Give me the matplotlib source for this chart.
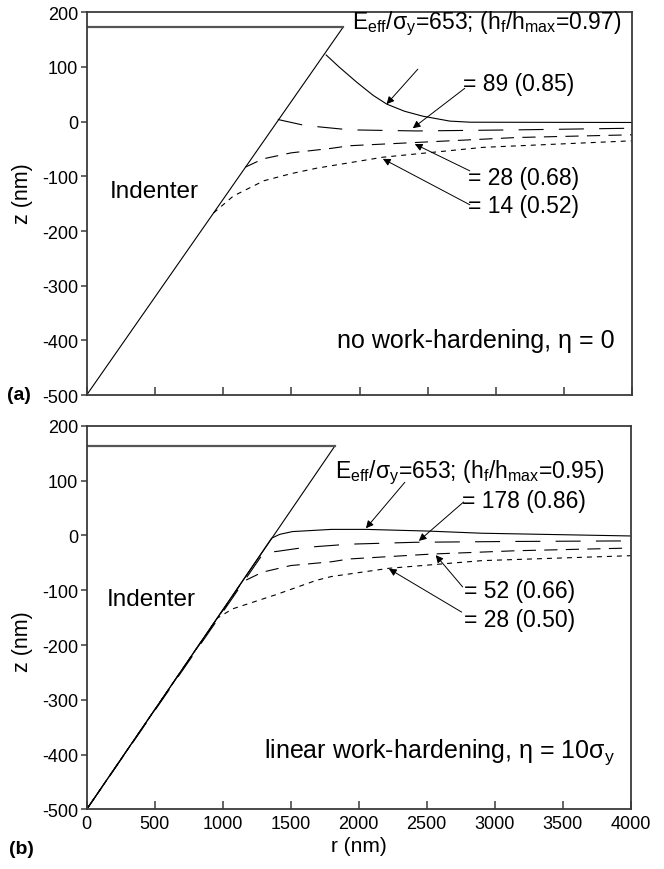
import numpy as np
import matplotlib
matplotlib.use("Agg")
import matplotlib.pyplot as plt

plt.rcParams["font.family"] = ["Liberation Sans", "DejaVu Sans"]
plt.rcParams["mathtext.fontset"] = "custom"
plt.rcParams["mathtext.rm"] = "Liberation Sans"
plt.rcParams["mathtext.it"] = "Liberation Sans"
plt.rcParams["lines.scale_dashes"] = False
plt.rcParams["axes.unicode_minus"] = False

# ─── Data ────────────────────────────────────────────────────────────────────

# indenter outline: tip at (0, -500), flat top
TIP_Z = -500
TOP_Z_A, EDGE_R_A = 173, 1880
TOP_Z_B, EDGE_R_B = 163, 1824

# (a) no work-hardening
a_653_r = [1755, 1850, 1980, 2100, 2200, 2330, 2464, 2662, 2810, 4000]
a_653_z = [122, 100, 72, 48, 32, 19, 10, 1, -1, -1.5]
a_89_r = [1401, 1600, 1929, 2420, 3152, 4000]
a_89_z = [4, -7, -15, -17, -15, -12]
a_28_r = [1165, 1293, 1500, 1787, 1929, 2420, 3152, 4000]
a_28_z = [-83, -68, -57, -49, -44, -38, -29, -24]
a_14_r = [930, 1075, 1300, 1500, 1688, 2172, 2906, 4000]
a_14_z = [-167, -136, -108, -95, -85, -65, -47, -35]

# (b) linear work-hardening (profiles follow the indenter down to the tip)
b_653_r = [0, 1360, 1420, 1513, 1800, 2054, 2500, 2903, 4000]
b_653_z = [-500, -5, 2, 7, 11, 11, 8, 4, -1]
b_178_r = [0, 1300, 1403, 1600, 1929, 2420, 3152, 4000]
b_178_z = [-500, -32, -29, -22, -16, -12.5, -11, -10]
b_52_r = [0, 1143, 1293, 1500, 1802, 1929, 2537, 3152, 4000]
b_52_z = [-500, -85, -67, -55, -48, -43, -34, -28, -23]
b_28_r = [0, 960, 1073, 1393, 1688, 1800, 2222, 2906, 4000]
b_28_z = [-500, -151, -134, -108, -82, -75, -60, -46, -37]

LABELS_A = [r"E$_{\rm eff}$/σ$_{\rm y}$=653; (h$_{\rm f}$/h$_{\rm max}$=0.97)",
            "= 89 (0.85)", "= 28 (0.68)", "= 14 (0.52)"]
LABELS_B = [r"E$_{\rm eff}$/σ$_{\rm y}$=653; (h$_{\rm f}$/h$_{\rm max}$=0.95)",
            "= 178 (0.86)", "= 52 (0.66)", "= 28 (0.50)"]

# label anchor (left, centre) and arrow (start -> tip) in data units
TEXT_A = [(1944, 180), (2757, 69), (2793, -103), (2793, -154)]
ARROW_A = [((2427, 96), (2198, 32)), ((2771, 61), (2390, -12)),
           ((2808, -90), (2405, -41)), ((2808, -152), (2171, -68))]
TEXT_B = [(1826, 117), (2757, 63), (2771, -100), (2771, -153)]
ARROW_B = [((2339, 97), (2053, 13)), ((2771, 61), (2442, -10)),
           ((2764, -94), (2566, -36)), ((2757, -140), (2222, -61))]

STYLES = [dict(ls="-"), dict(ls=(0, (18, 11))),
          dict(ls=(0, (9.5, 6))), dict(ls=(0, (3.6, 3.6)))]

SPINE = "#3a3a3a"


def setup_axes(ax, show_xlabels):
    ax.set_xlim(0, 4000)
    ax.set_ylim(-500, 200)
    ax.set_xticks(np.arange(0, 4001, 500))
    ax.set_yticks(np.arange(-500, 201, 100))
    ax.tick_params(axis="x", direction="in", length=6, width=1.1, color=SPINE,
                   labelsize=13, pad=4, labelbottom=show_xlabels)
    ax.tick_params(axis="y", direction="out", length=4, width=1.1, color=SPINE,
                   labelsize=13, pad=2)
    for s in ax.spines.values():
        s.set_color(SPINE)
        s.set_linewidth(1.3)
    ax.set_ylabel("z (nm)", fontsize=15.5)


def draw_panel(ax, top_z, edge_r, curves, labels, text_pos, arrows, cond):
    ax.plot([0, edge_r], [TIP_Z, top_z], color="k", lw=0.8)
    ax.plot([0, edge_r], [top_z, top_z], color="#555555", lw=1.6)
    for (r, z), st in zip(curves, STYLES):
        ax.plot(r, z, color="k", lw=0.8, **st)
    for lab, (tx, tz) in zip(labels, text_pos):
        ax.text(tx, tz, lab, fontsize=16.5, ha="left", va="center")
    for (p0, p1) in arrows:
        ax.annotate("", xy=p1, xytext=p0,
                    arrowprops=dict(arrowstyle="-|>", lw=0.7, color="k",
                                    mutation_scale=11, shrinkA=0, shrinkB=0))
    ax.text(cond[0], cond[1], cond[2], fontsize=18, ha="right", va="center")


fig = plt.figure(figsize=(6.64, 8.70), dpi=100)
ax_a = fig.add_axes([0.1305, 0.5448, 0.9525 - 0.1305, 0.9847 - 0.5448])
ax_b = fig.add_axes([0.1305, 0.0685, 0.9500 - 0.1305, 0.5094 - 0.0685])

setup_axes(ax_a, False)
setup_axes(ax_b, True)
ax_b.set_xlabel("r (nm)", fontsize=15, labelpad=3)
ax_a.yaxis.set_label_coords(-0.098, 0.53)
ax_b.yaxis.set_label_coords(-0.098, 0.44)

draw_panel(ax_a, TOP_Z_A, EDGE_R_A,
           [(a_653_r, a_653_z), (a_89_r, a_89_z), (a_28_r, a_28_z), (a_14_r, a_14_z)],
           LABELS_A, TEXT_A, ARROW_A, (3870, -400, "no work-hardening, η = 0"))
ax_a.text(171, -127, "Indenter", fontsize=17.5, ha="left", va="center")

draw_panel(ax_b, TOP_Z_B, EDGE_R_B,
           [(b_653_r, b_653_z), (b_178_r, b_178_z), (b_52_r, b_52_z), (b_28_r, b_28_z)],
           LABELS_B, TEXT_B, ARROW_B,
           (3885, -394, r"linear work-hardening, η = 10σ$_{\rm y}$"))
ax_b.text(149, -116, "Indenter", fontsize=17.5, ha="left", va="center")

fig.text(0.010, 1 - 395 / 870, "(a)", fontsize=14, fontweight="bold", va="center")
fig.text(0.013, 1 - 850 / 870, "(b)", fontsize=14, fontweight="bold", va="center")

fig.savefig("out.png", dpi=100, facecolor="white")
